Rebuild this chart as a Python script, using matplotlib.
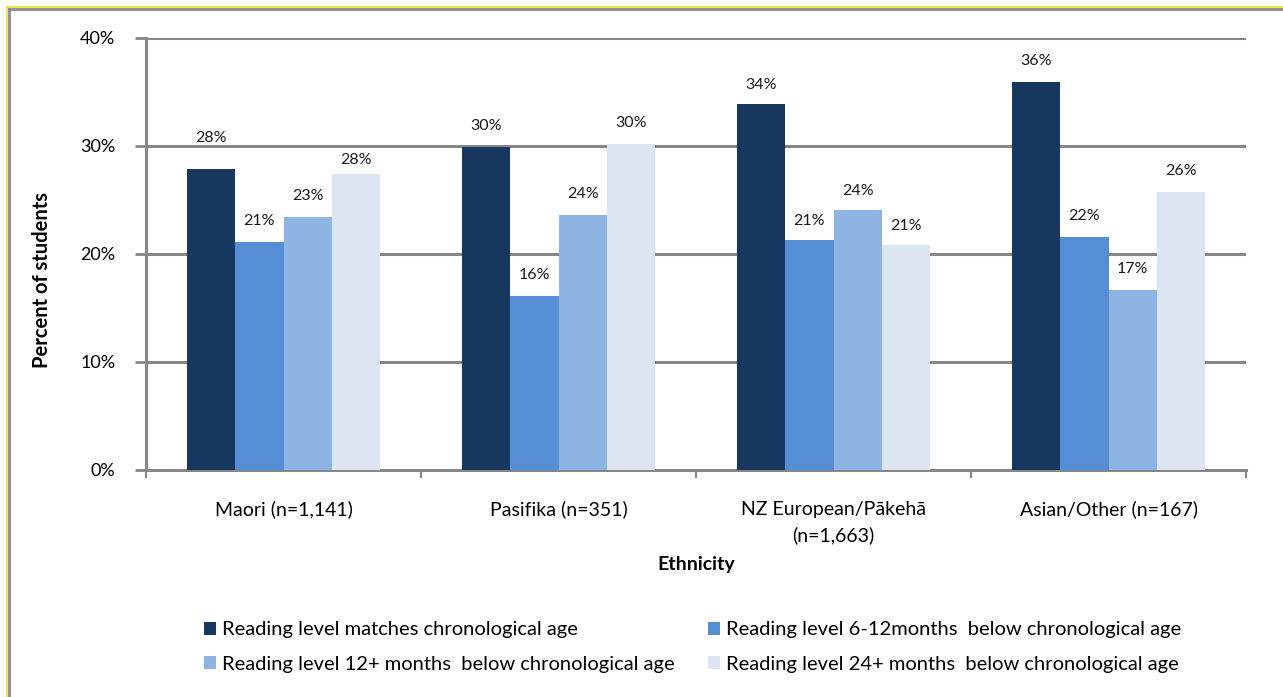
import matplotlib
matplotlib.use("Agg")
import matplotlib.pyplot as plt
import numpy as np
from matplotlib.lines import Line2D
from matplotlib.patches import Patch

plt.rcParams['font.family'] = ['Lato', 'DejaVu Sans']

categories = ["Maori (n=1,141)", "Pasifika (n=351)", "NZ European/Pākehā\n(n=1,663)", "Asian/Other (n=167)"]
series_names = [
    "Reading level matches chronological age",
    "Reading level 6-12months  below chronological age",
    "Reading level 12+ months  below chronological age",
    "Reading level 24+ months  below chronological age",
]
matches = [27.9, 29.9, 33.9, 35.9]
below_6_12 = [21.1, 16.1, 21.3, 21.6]
below_12 = [23.4, 23.6, 24.1, 16.7]
below_24 = [27.4, 30.2, 20.8, 25.7]
value_labels = [
    ["28%", "30%", "34%", "36%"],
    ["21%", "16%", "21%", "22%"],
    ["23%", "24%", "24%", "17%"],
    ["28%", "30%", "21%", "26%"],
]
colors = ["#17375E", "#558ED5", "#8EB4E3", "#DCE6F2"]
grid_color = "#868686"

W, H = 1283, 697
fig = plt.figure(figsize=(W / 100, H / 100), dpi=100)
ax = fig.add_axes([146 / W, 1 - 470 / H, 1100 / W, 432 / H])

data = [matches, below_6_12, below_12, below_24]
x = np.arange(len(categories))
bw = 0.175
# label offsets (pixels above bar top); a couple nudged away from gridlines
offsets = [[31, 21, 19, 21], [21, 21, 19, 21], [21, 21, 19, 21], [14, 21, 19, 21]]

for i, (vals, col) in enumerate(zip(data, colors)):
    pos = x + (i - 1.5) * bw
    ax.bar(pos, vals, width=bw, color=col, zorder=3, label=series_names[i])
    for j, (p, v) in enumerate(zip(pos, vals)):
        ax.annotate(value_labels[i][j], (p, v), xytext=(0, offsets[i][j] * 0.72),
                    textcoords="offset points", ha="center", va="center",
                    fontsize=11.5, color="#1a1a1a", zorder=4)

ax.set_xlim(-0.5, len(categories) - 0.5)
ax.set_ylim(0, 40)
ax.set_yticks([0, 10, 20, 30, 40])
ax.set_yticklabels(["0%", "10%", "20%", "30%", "40%"], fontsize=13)
ax.yaxis.grid(True, color=grid_color, linewidth=2.2, zorder=0)
ax.set_axisbelow(True)

# category boundary ticks on the x axis, labels centred under groups
ax.set_xticks(np.arange(-0.5, len(categories) + 0.5, 1.0))
ax.set_xticklabels([])
ax.set_xticks(x, minor=True)
ax.set_xticklabels(categories, minor=True, fontsize=14, linespacing=1.55)
ax.tick_params(axis="x", which="minor", length=0, pad=22)
ax.tick_params(axis="x", which="major", length=6, width=1.5, color=grid_color, direction="out")
ax.tick_params(axis="y", length=8, width=2, color=grid_color, direction="out", pad=14)

for s in ["top", "right"]:
    ax.spines[s].set_visible(False)
for s in ["left", "bottom"]:
    ax.spines[s].set_color(grid_color)
    ax.spines[s].set_linewidth(2.2)

ax.set_ylabel("Percent of students", fontsize=14.5, fontweight="bold")
ax.yaxis.set_label_coords(-0.0855, 0.44)
ax.set_xlabel("Ethnicity", fontsize=14, fontweight="bold")
ax.xaxis.set_label_coords(0.5, -0.199)

handles = [Patch(facecolor=c, edgecolor="none") for c in colors]
order = [0, 2, 1, 3]
fig.legend([handles[k] for k in order], [series_names[k] for k in order],
           ncol=2, loc="center left", bbox_to_anchor=(186 / W, 1 - 647 / H),
           frameon=False, fontsize=14.5, handlelength=0.6, handleheight=0.6,
           handletextpad=0.3, columnspacing=1.65, labelspacing=0.85)

# frame around the chart area
fig.add_artist(Line2D([7 / W, 1], [1 - 7 / H, 1 - 7 / H], color="#E6E62E", linewidth=1.2))
fig.add_artist(Line2D([9 / W, 1], [1 - 9 / H, 1 - 9 / H], color="#8C8C8C", linewidth=2))
fig.add_artist(Line2D([7 / W, 7 / W], [0, 1 - 7 / H], color="#E6E62E", linewidth=1.2))
fig.add_artist(Line2D([9 / W, 9 / W], [0, 1 - 9 / H], color="#8C8C8C", linewidth=2))

fig.savefig("out.png", dpi=100)
